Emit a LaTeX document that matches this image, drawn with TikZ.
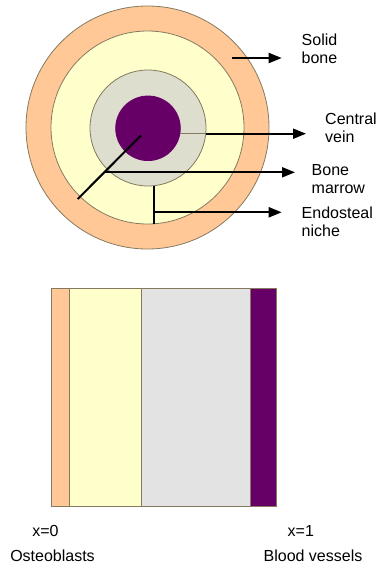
\documentclass[tikz,border=0pt]{standalone}
\usepackage{fontspec}
\setmainfont{Liberation Sans}
\usetikzlibrary{arrows.meta}
\definecolor{bonec}{HTML}{FFC896}
\definecolor{marrowc}{HTML}{FFFFCC}
\definecolor{nichec}{HTML}{DEDECE}
\definecolor{veinc}{HTML}{660066}
\definecolor{greyband}{HTML}{E3E3E3}
\definecolor{edgec}{HTML}{857A60}
\begin{document}
\begin{tikzpicture}[x=1pt,y=-1pt,
  ring/.style={circle,draw=edgec,line width=0.8pt,inner sep=0pt},
  band/.style={draw=edgec,line width=0.8pt},
  lead/.style={black,line width=2pt},
  pointer/.style={black,line width=2pt,-{Triangle[length=13pt,width=10pt]}},
  lbl/.style={font=\fontsize{16}{18}\selectfont,inner sep=0pt,align=left,anchor=west},
  captxt/.style={font=\fontsize{16}{18}\selectfont,inner sep=0pt,anchor=base}]
\useasboundingbox (0,0) rectangle (378,567);
% --- cross-section ---
\node[ring,fill=bonec,minimum size=243pt] (outer) at (147.5,127.5) {};
\node[ring,fill=marrowc,minimum size=193pt] (marrow) at (147.5,127.5) {};
\node[ring,fill=nichec,minimum size=116pt] (niche) at (148,128) {};
\node[ring,draw=veinc,fill=veinc,minimum size=64.6pt] (vein) at (148,128.3) {};
% key points
\coordinate (vc) at (141,135.5);
\coordinate (diagend) at (77.7,199);
\coordinate (bm0) at (104.6,172.3);
\coordinate (en0) at (154.3,185.7);
\coordinate (en1) at (154.3,223.5);
\coordinate (enh) at (154.3,212.3);
\coordinate (cv0) at (180,133.7);
\coordinate (cv1) at (206,133.7);
\coordinate (sb0) at (231.7,58);
% labels
\node[lbl] (tsolid) at (301.5,49) {Solid\\bone};
\node[lbl] (tvein) at (325,128) {Central\\vein};
\node[lbl] (tmarrow) at (311.5,179) {Bone\\marrow};
\node[lbl] (tendo) at (301.5,222) {Endosteal\\niche};
\coordinate (sb1) at (281.7,58);
\coordinate (cv2) at (306,133.7);
\coordinate (bm1) at (295,172.3);
\coordinate (en2) at (281.7,212.3);
% connectors
\draw[lead] (vc) -- (diagend);
\draw[edgec,line width=1.2pt] (cv0) -- (cv1);
\draw[pointer] (cv1) -- (cv2);
\draw[pointer] (bm0) -- (bm1);
\draw[lead] (en0) -- (en1);
\draw[pointer] ([xshift=-1pt]enh) -- (en2);
\draw[pointer] (sb0) -- (sb1);
% --- layered strip ---
\fill[bonec] (51.7,288.3) rectangle (69,506);
\fill[marrowc] (69,288.3) rectangle (141.7,506);
\fill[greyband] (141.7,288.3) rectangle (250,506);
\fill[veinc] (250,288.3) rectangle (276,506);
\draw[band] (51.7,288.3) rectangle (276,506);
\draw[band] (69,288.3) -- (69,506);
\draw[band] (141.7,288.3) -- (141.7,506);
\draw[band] (250,288.3) -- (250,506);
\node[captxt] (x0) at (45.5,536.7) {x=0};
\node[captxt] (osteo) at (52.5,561.7) {Osteoblasts};
\node[captxt] (x1) at (300.8,536.7) {x=1};
\node[captxt] (blood) at (313,561.7) {Blood vessels};
\end{tikzpicture}
\end{document}
